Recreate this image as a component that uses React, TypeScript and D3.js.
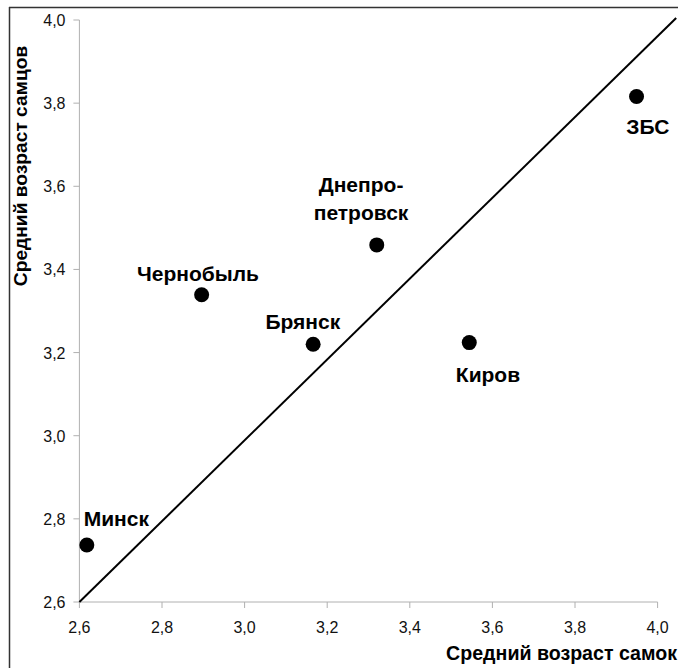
import React from "react";
import * as d3 from "d3";

const cities = ["Минск", "Чернобыль", "Брянск", "Днепро-петровск", "Киров", "ЗБС"];
const femaleAge = [2.618, 2.896, 3.166, 3.32, 3.544, 3.949];
const maleAge = [2.737, 3.339, 3.22, 3.459, 3.224, 3.816];
const tickValues = [2.6, 2.8, 3.0, 3.2, 3.4, 3.6, 3.8, 4.0];
const lineX = [2.6, 4.045];
const lineY = [2.6, 4.005];

const W = 678;
const H = 668;
const font = "'Liberation Sans', Arial, sans-serif";

// label placement relative to each point: [dx, dy of first baseline]
const labelOffsets: [number, number][] = [
  [29.5, -19],
  [-3.7, -13.3],
  [-10.3, -15.3],
  [-15.7, -53.3],
  [18.7, 39.6],
  [11.3, 38],
];

export default function App() {
  const x = d3.scaleLinear().domain([2.6, 4.0]).range([79.4, 657.6]);
  const y = d3.scaleLinear().domain([2.6, 4.0]).range([602, 20]);
  const fmt = (v: number) => v.toFixed(1).replace(".", ",");
  const line = d3
    .line<number>()
    .x((_, i) => x(lineX[i]))
    .y((_, i) => y(lineY[i]));

  return (
    <svg
      width={W}
      height={H}
      style={{ position: "absolute", left: 0, top: 0, background: "#fff" }}
    >
      <rect x={0} y={0} width={W} height={H} fill="#fff" />
      {/* frame */}
      <line x1={9} y1={7.5} x2={W} y2={7.5} stroke="#333" strokeWidth={1.5} />
      <line x1={9.5} y1={7} x2={9.5} y2={H} stroke="#333" strokeWidth={1.5} />

      {/* axes */}
      <line x1={x(2.6)} y1={y(2.6)} x2={x(4.0)} y2={y(2.6)} stroke="#b0b0b0" strokeWidth={1} />
      <line x1={x(2.6)} y1={y(2.6)} x2={x(2.6)} y2={y(4.0)} stroke="#b0b0b0" strokeWidth={1} />
      {tickValues.map((t) => (
        <g key={"x" + t}>
          <line x1={x(t)} y1={y(2.6)} x2={x(t)} y2={y(2.6) + 6} stroke="#b0b0b0" />
          <text
            x={x(t)}
            y={633}
            textAnchor="middle"
            fontFamily={font}
            fontSize={16}
            fill="#111"
          >
            {fmt(t)}
          </text>
        </g>
      ))}
      {tickValues.map((t) => (
        <g key={"y" + t}>
          <line x1={x(2.6) - 6} y1={y(t)} x2={x(2.6)} y2={y(t)} stroke="#b0b0b0" />
          <text
            x={65.5}
            y={y(t) + 6}
            textAnchor="end"
            fontFamily={font}
            fontSize={16}
            fill="#111"
          >
            {fmt(t)}
          </text>
        </g>
      ))}

      {/* diagonal */}
      <path d={line(lineX) || ""} fill="none" stroke="#000" strokeWidth={2} />

      {/* points */}
      {cities.map((c, i) => (
        <circle key={"p" + c} cx={x(femaleAge[i])} cy={y(maleAge[i])} r={7.5} fill="#000" />
      ))}
      {cities.map((c, i) => {
        const [dx, dy] = labelOffsets[i];
        const parts = c.includes("-") ? [c.split("-")[0] + "-", c.split("-")[1]] : [c];
        return (
          <text
            key={"l" + c}
            x={x(femaleAge[i]) + dx}
            y={y(maleAge[i]) + dy}
            textAnchor="middle"
            fontFamily={font}
            fontWeight="bold"
            fontSize={21}
            fill="#000"
          >
            {parts.map((p, k) => (
              <tspan key={k} x={x(femaleAge[i]) + dx} dy={k === 0 ? 0 : 28.3}>
                {p}
              </tspan>
            ))}
          </text>
        );
      })}

      {/* axis titles */}
      <text
        x={677}
        y={660}
        textAnchor="end"
        fontFamily={font}
        fontWeight="bold"
        fontSize={19.6}
        fill="#000"
      >
        Средний возраст самок
      </text>
      <text
        transform={`translate(27,${166}) rotate(-90)`}
        textAnchor="middle"
        fontFamily={font}
        fontWeight="bold"
        fontSize={19.2}
        fill="#000"
      >
        Средний возраст самцов
      </text>
    </svg>
  );
}
